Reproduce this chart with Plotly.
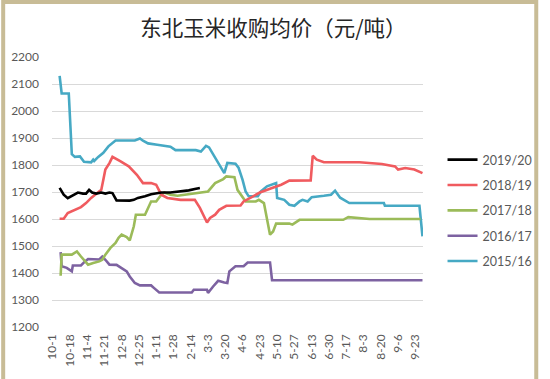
import pandas as pd
import plotly.graph_objects as go

# ---- categories (daily, Oct 1 -> Sep 30) ----
_days = pd.date_range("2018-10-01", "2019-09-30", freq="D")
categories = [f"{d.month}-{d.day}" for d in _days]
tick_labels = ["10-1", "10-18", "11-4", "11-21", "12-8", "12-25", "1-11", "1-28",
               "2-14", "3-3", "3-20", "4-6", "4-23", "5-10", "5-27", "6-13",
               "6-30", "7-17", "8-3", "8-20", "9-6", "9-23"]

title_text = "东北玉米收购均价（元/吨）"

# ---- series: 2015/16 ----
s1516_dates = ["10-8", "10-10", "10-17", "10-20", "10-23", "10-28", "11-1", "11-8", "11-10",
               "11-11", "11-15", "11-20", "11-25", "12-2", "12-21", "12-26", "12-29", "1-3",
               "1-12", "1-25", "1-30", "2-19", "2-24", "3-1", "3-4", "3-11", "3-14", "3-19",
               "3-22", "3-30", "4-2", "4-6", "4-9", "4-12", "4-21", "4-24", "4-30", "5-9",
               "5-10", "5-17", "5-22", "5-27", "6-1", "6-4", "6-9", "6-13", "6-25", "7-2",
               "7-6", "7-11", "7-20", "8-23", "8-24", "9-27", "9-30"]
s1516_vals = [2130, 2065, 2065, 1840, 1830, 1832, 1812, 1810, 1820,
              1815, 1830, 1845, 1869, 1891, 1891, 1898, 1890, 1880,
              1875, 1868, 1855, 1855, 1850, 1871, 1865, 1820, 1800, 1770,
              1808, 1805, 1790, 1745, 1702, 1684, 1684, 1702, 1721, 1733,
              1678, 1671, 1653, 1649, 1665, 1671, 1665, 1681, 1686, 1690,
              1705, 1679, 1659, 1659, 1649, 1649, 1536]

# ---- series: 2016/17 ----
s1617_dates = ["10-9", "10-10", "10-15", "10-20", "10-21", "10-29", "11-2", "11-5", "11-16",
               "11-19", "11-22", "11-26", "12-3", "12-8", "12-13", "12-16", "12-21", "12-26",
               "1-6", "1-9", "1-14", "2-15", "2-17", "3-2", "3-3", "3-8", "3-13", "3-19",
               "3-22", "3-24", "3-30", "4-7", "4-11", "5-3", "5-5", "9-30"]
s1617_vals = [1477, 1425, 1419, 1406, 1428, 1428, 1443, 1452, 1450,
              1461, 1449, 1431, 1430, 1419, 1406, 1387, 1363, 1354,
              1354, 1344, 1328, 1328, 1338, 1338, 1326, 1350, 1371, 1365,
              1363, 1406, 1425, 1425, 1439, 1439, 1373, 1373]

# ---- series: 2017/18 ----
s1718_dates = ["10-9", "10-10", "10-20", "10-25", "10-29", "11-2", "11-5", "11-10", "11-16",
               "11-19", "11-22", "11-27", "12-2", "12-5", "12-8", "12-13", "12-16", "12-20",
               "12-22", "12-31", "1-3", "1-6", "1-11", "1-16", "1-19", "1-25", "2-1", "2-17",
               "3-3", "3-10", "3-14", "3-18", "3-21", "3-29", "4-1", "4-6", "4-9", "4-19",
               "4-22", "4-27", "4-28", "5-3", "5-6", "5-9", "5-22", "5-25", "6-1", "7-14",
               "7-19", "8-2", "8-9", "9-28"]
s1718_vals = [1390, 1468, 1468, 1480, 1461, 1443, 1431, 1437, 1443,
              1449, 1468, 1493, 1511, 1530, 1542, 1533, 1521, 1573,
              1616, 1616, 1641, 1665, 1665, 1690, 1698, 1690, 1686, 1696,
              1702, 1733, 1739, 1748, 1758, 1755, 1708, 1678, 1665, 1665,
              1671, 1659, 1641, 1542, 1554, 1583, 1583, 1579, 1597, 1597,
              1607, 1604, 1600, 1600]

# ---- series: 2018/19 ----
s1819_dates = ["10-8", "10-12", "10-16", "10-23", "10-29", "11-3", "11-8", "11-14", "11-18",
               "11-20", "11-22", "11-26", "11-29", "12-7", "12-15", "12-23", "12-29", "1-6",
               "1-11", "1-16", "1-22", "2-4", "2-18", "2-23", "2-26", "3-2", "3-5", "3-10",
               "3-14", "3-21", "4-4", "4-7", "4-15", "4-23", "5-5", "5-14", "5-22", "6-12",
               "6-14", "6-18", "6-25", "7-30", "8-21", "9-3", "9-6", "9-13", "9-22", "9-30"]
s1819_vals = [1601, 1601, 1622, 1634, 1644, 1659, 1678, 1696, 1708,
              1745, 1783, 1807, 1830, 1813, 1795, 1764, 1733, 1733,
              1727, 1690, 1678, 1671, 1671, 1641, 1616, 1587, 1604, 1616,
              1634, 1649, 1650, 1665, 1681, 1698, 1715, 1727, 1742, 1743,
              1834, 1820, 1810, 1810, 1804, 1795, 1783, 1789, 1783, 1770]

# ---- series: 2019/20 ----
s1920_dates = ["10-8", "10-12", "10-16", "10-21", "10-26", "10-31", "11-3", "11-6", "11-9",
               "11-13", "11-18", "11-22", "11-26", "11-29", "12-3", "12-16", "12-20", "12-24",
               "12-31", "1-6", "1-11", "1-16", "1-25", "2-4", "2-12", "2-18", "2-23"]
s1920_vals = [1715, 1690, 1677, 1686, 1698, 1694, 1694, 1708, 1698,
              1694, 1698, 1694, 1698, 1696, 1669, 1668, 1671, 1678,
              1684, 1692, 1694, 1698, 1698, 1702, 1706, 1711, 1715]

series = [
    ("2015/16", s1516_dates, s1516_vals, "#46A9C4"),
    ("2016/17", s1617_dates, s1617_vals, "#7D62A1"),
    ("2017/18", s1718_dates, s1718_vals, "#9BBB59"),
    ("2018/19", s1819_dates, s1819_vals, "#F05B5F"),
    ("2019/20", s1920_dates, s1920_vals, "#000000"),
]

fig = go.Figure()
for i, (name, xs, ys, col) in enumerate(series):
    fig.add_trace(go.Scatter(
        x=xs, y=ys, name=name, mode="lines",
        line=dict(color=col, width=2.6),
        legendgroup=name, legendrank=10 - i,
    ))

W, H = 550, 379
ml, mr, mt, mb = 52, 118, 57, 52
pw, ph = W - ml - mr, H - mt - mb

fig.update_layout(
    width=W, height=H,
    margin=dict(l=ml, r=mr, t=mt, b=mb),
    paper_bgcolor="white", plot_bgcolor="white",
    title=dict(text=title_text, x=0.497, xanchor="center", y=1 - 28 / H, yanchor="middle",
               font=dict(family="Noto Sans CJK SC", size=21.5, color="#262626")),
    font=dict(family="Lato", size=12, color="#595959"),
    showlegend=True,
    legend=dict(x=(452 - ml) / pw, xanchor="left", y=1 - (145 - mt) / ph, yanchor="top",
                tracegroupgap=6.1, itemwidth=30, font=dict(family="Lato", size=12.5, color="#595959"),
                bgcolor="rgba(0,0,0,0)"),
    xaxis=dict(type="category", categoryorder="array", categoryarray=categories,
               range=[-0.5, len(categories) - 0.5],
               tickmode="array", tickvals=tick_labels, ticktext=tick_labels,
               tickangle=-90, showgrid=False, zeroline=False, showline=False,
               ticklabelstandoff=4, tickfont=dict(family="Lato", size=12, color="#595959")),
    yaxis=dict(range=[1200, 2200], dtick=100, tick0=1200, showgrid=True,
               gridcolor="#D9D9D9", gridwidth=1, zeroline=False, showline=False,
               ticklabelstandoff=12, tickfont=dict(family="Lato", size=12, color="#595959")),
)

# outer frame
fig.add_shape(type="rect", xref="paper", yref="paper",
              x0=(2 - ml) / pw, x1=(W - 2 - ml) / pw,
              y0=(mb - (H - 2)) / ph, y1=(H - 2 - mb) / ph,
              line=dict(color="#C8BC96", width=4), fillcolor="rgba(0,0,0,0)", layer="below")

fig.write_html(
    "out.html", config={"displayModeBar": False},
    post_script=("document.documentElement.style.overflow='hidden';"
                 "document.body.style.margin='0px';document.body.style.overflow='hidden';"),
)
